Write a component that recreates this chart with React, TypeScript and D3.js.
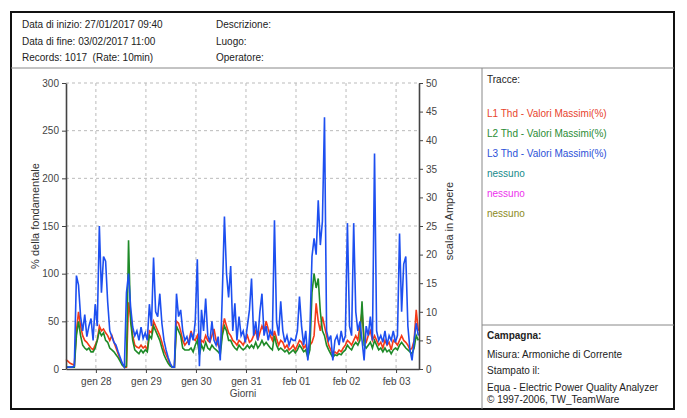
import React, { useEffect, useRef } from "react";
import * as d3 from "d3";

// Hourly samples starting 27/01/2017 09:40
const startTime = new Date(2017, 0, 27, 9, 40);
const endTime = new Date(2017, 1, 3, 11, 0);

const l1Values = [
  10, 8, 6, 5, 4, 40, 60, 45, 35, 30, 28, 25, 22, 20, 25, 30, 45, 40, 42, 38,
  35, 30, 35, 28, 22, 16, 10, 5, 2, 2, 70, 55, 35, 25, 23, 22, 25, 22, 24, 20,
  40, 38, 50, 45, 40, 35, 28, 20, 15, 10, 4, 2, 2, 50, 48, 40, 30, 25, 28, 30,
  40, 32, 30, 35, 20, 30, 28, 35, 30, 28, 35, 42, 30, 25, 20, 40, 53, 45, 38, 35,
  30, 28, 25, 30, 28, 25, 30, 35, 28, 30, 35, 40, 30, 38, 45, 40, 50, 42, 35, 30,
  40, 32, 25, 30, 28, 22, 25, 20, 22, 25, 20, 25, 30, 28, 22, 25, 15, 25, 28, 35,
  69, 50, 40, 55, 45, 35, 25, 20, 15, 18, 16, 20, 18, 22, 25, 30, 28, 25, 30, 35,
  30, 45, 60, 30, 28, 35, 40, 30, 35, 30, 25, 28, 22, 30, 25, 28, 20, 30, 28, 25,
  30, 35, 30, 28, 25, 20, 22, 30, 62, 40,
];

const l2Values = [
  2, 2, 2, 2, 2, 35, 50, 35, 25, 22, 20, 22, 18, 18, 22, 30, 40, 35, 38, 30,
  28, 22, 20, 18, 15, 12, 8, 4, 2, 3, 135, 50, 30, 20, 18, 16, 20, 17, 20, 18,
  35, 32, 45, 40, 35, 30, 22, 15, 10, 6, 3, 2, 2, 45, 40, 35, 22, 20, 20, 20,
  22, 18, 25, 30, 15, 25, 20, 28, 22, 20, 25, 22, 20, 18, 15, 35, 45, 40, 30, 30,
  25, 22, 20, 25, 22, 20, 22, 25, 22, 25, 22, 28, 22, 25, 30, 25, 28, 25, 22, 20,
  35, 25, 20, 22, 20, 18, 20, 16, 18, 20, 17, 20, 25, 22, 18, 20, 12, 20, 80, 100,
  85, 95, 60, 40, 35, 25, 20, 16, 12, 15, 14, 16, 15, 18, 20, 25, 22, 20, 25, 28,
  25, 30, 71, 25, 22, 25, 28, 22, 30, 25, 20, 22, 18, 22, 18, 20, 16, 20, 22, 20,
  25, 28, 25, 22, 20, 18, 16, 22, 35, 30,
];

const l3Values = [
  2, 2, 2, 2, 3, 98, 88, 55, 40, 57, 34, 45, 53, 30, 68, 45, 150, 80, 118, 113,
  70, 40, 34, 28, 25, 18, 12, 6, 2, 80, 100, 65, 44, 35, 40, 30, 44, 32, 38, 30,
  68, 45, 117, 60, 55, 79, 48, 30, 20, 12, 6, 2, 2, 79, 55, 62, 40, 30, 34, 25,
  38, 30, 50, 115, 3, 62, 40, 74, 35, 28, 50, 30, 25, 34, 9, 80, 160, 100, 75, 108,
  40, 69, 30, 55, 35, 40, 28, 45, 62, 95, 35, 50, 30, 60, 79, 35, 45, 30, 40, 35,
  156, 50, 35, 71, 40, 28, 35, 25, 32, 30, 30, 40, 76, 45, 25, 40, 9, 40, 118, 137,
  120, 177, 130, 155, 264, 40, 30, 35, 9, 30, 35, 25, 40, 28, 35, 153, 45, 35, 153, 60,
  40, 50, 30, 9, 45, 35, 55, 30, 226, 40, 30, 35, 28, 40, 25, 35, 30, 40, 28, 35,
  142, 60, 110, 118, 45, 20, 9, 30, 48, 35,
];

const leftTicks = [0, 50, 100, 150, 200, 250, 300];
const rightTicks = [0, 5, 10, 15, 20, 25, 30, 35, 40, 45, 50];
const monthNames = ["gen", "feb", "mar", "apr", "mag", "giu", "lug", "ago", "set", "ott", "nov", "dic"];

const headerLeft = ["Data di inizio: 27/01/2017 09:40", "Data di fine: 03/02/2017 11:00", "Records: 1017  (Rate: 10min)"];
const headerRight = ["Descrizione:", "Luogo:", "Operatore:"];
const legendItems = [
  { label: "L1 Thd - Valori Massimi(%)", color: "#e8432c" },
  { label: "L2 Thd - Valori Massimi(%)", color: "#2a8c34" },
  { label: "L3 Thd - Valori Massimi(%)", color: "#2b50d8" },
  { label: "nessuno", color: "#168a8a" },
  { label: "nessuno", color: "#ee30ee" },
  { label: "nessuno", color: "#8c8a22" },
];
const infoLines = ["Misura: Armoniche di Corrente", "Stampato il:", "Equa - Electric Power Quality Analyzer", "\u00a9 1997-2006, TW_TeamWare"];

const seriesList = [
  { values: l1Values, color: "#f53a18" },
  { values: l2Values, color: "#1e8a28" },
  { values: l3Values, color: "#1d4ff0" },
];

export default function App() {
  const ref = useRef<SVGSVGElement>(null);

  useEffect(() => {
    const svg = d3.select(ref.current);
    svg.selectAll("*").remove();
    const font = "'Liberation Sans', Arial, sans-serif";

    const plotL = 66, plotR = 419, plotT = 83, plotB = 369;
    const x = d3.scaleTime().domain([startTime, endTime]).range([plotL, plotR]);
    const yL = d3.scaleLinear().domain([0, 300]).range([plotB, plotT]);
    const yR = d3.scaleLinear().domain([0, 50]).range([plotB, plotT]);

    // Frame
    svg.append("rect").attr("x", 11).attr("y", 12).attr("width", 663).attr("height", 397)
      .attr("fill", "#fff").attr("stroke", "#111").attr("stroke-width", 2);
    svg.append("line").attr("x1", 11).attr("x2", 674).attr("y1", 68).attr("y2", 68).attr("stroke", "#888").attr("stroke-width", 1);
    svg.append("line").attr("x1", 482).attr("x2", 482).attr("y1", 68).attr("y2", 409).attr("stroke", "#888").attr("stroke-width", 1);
    svg.append("line").attr("x1", 482).attr("x2", 674).attr("y1", 325).attr("y2", 325).attr("stroke", "#888").attr("stroke-width", 1);

    // Header
    headerLeft.forEach((t, i) => {
      svg.append("text").attr("x", 22).attr("y", 28 + i * 16.5).attr("font-family", font).attr("font-size", 10).attr("fill", "#222").style("white-space", "pre").text(t);
    });
    headerRight.forEach((t, i) => {
      svg.append("text").attr("x", 216).attr("y", 28 + i * 16.5).attr("font-family", font).attr("font-size", 10).attr("fill", "#222").text(t);
    });

    // Legend
    svg.append("text").attr("x", 487).attr("y", 83).attr("font-family", font).attr("font-size", 10).attr("fill", "#222").text("Tracce:");
    legendItems.forEach((d, i) => {
      svg.append("text").attr("x", 487).attr("y", 117 + i * 20).attr("font-family", font).attr("font-size", 10).attr("fill", d.color).text(d.label);
    });

    // Info box
    svg.append("text").attr("x", 487).attr("y", 339).attr("font-family", font).attr("font-size", 10).attr("font-weight", "bold").attr("fill", "#222").text("Campagna:");
    const infoY = [358, 374, 391, 403];
    infoLines.forEach((t, i) => {
      svg.append("text").attr("x", 487).attr("y", infoY[i]).attr("font-family", font).attr("font-size", 10).attr("fill", "#222").text(t);
    });

    // Grid
    const dayTicks = d3.timeDay.range(d3.timeDay.ceil(startTime), endTime);
    const grid = svg.append("g").attr("stroke", "#bbb").attr("stroke-dasharray", "3,3").attr("stroke-width", 1);
    leftTicks.filter((v) => v > 0).forEach((v) => {
      grid.append("line").attr("x1", plotL).attr("x2", plotR).attr("y1", yL(v)).attr("y2", yL(v));
    });
    dayTicks.forEach((d) => {
      grid.append("line").attr("x1", x(d)).attr("x2", x(d)).attr("y1", plotT).attr("y2", plotB);
    });

    // Series
    const line = d3.line<number>()
      .x((_, i) => x(d3.timeHour.offset(startTime, i)))
      .y((v) => yL(v));
    seriesList.forEach((s) => {
      svg.append("path").datum(s.values).attr("d", line).attr("fill", "none")
        .attr("stroke", s.color).attr("stroke-width", 1.6).attr("stroke-linejoin", "miter");
    });

    // Axes
    const fmt = (d: Date) => `${monthNames[d.getMonth()]} ${String(d.getDate()).padStart(2, "0")}`;
    const styleAxis = (g: any) => {
      g.selectAll("text").attr("font-family", font).attr("font-size", 10).attr("fill", "#444");
      g.selectAll("line").attr("stroke", "#444");
      g.select(".domain").attr("stroke", "#444").attr("stroke-width", 1.6);
    };
    const gL = svg.append("g").attr("transform", `translate(${plotL},0)`)
      .call(d3.axisLeft(yL).tickValues(leftTicks).tickSize(4).tickSizeOuter(0).tickPadding(3));
    styleAxis(gL);
    const gR = svg.append("g").attr("transform", `translate(${plotR},0)`)
      .call(d3.axisRight(yR).tickValues(rightTicks).tickSize(4).tickSizeOuter(0).tickPadding(3));
    styleAxis(gR);
    const gB = svg.append("g").attr("transform", `translate(0,${plotB})`)
      .call(d3.axisBottom(x).tickValues(dayTicks).tickFormat(fmt as any).tickSize(4).tickSizeOuter(0).tickPadding(5));
    styleAxis(gB);

    // Titles
    svg.append("text").attr("transform", `translate(39,216) rotate(-90)`).attr("text-anchor", "middle")
      .attr("font-family", font).attr("font-size", 11).attr("fill", "#333").text("% della fondamentale");
    svg.append("text").attr("transform", `translate(453,221) rotate(-90)`).attr("text-anchor", "middle")
      .attr("font-family", font).attr("font-size", 11).attr("fill", "#333").text("scala in Ampere");
    svg.append("text").attr("x", 243).attr("y", 397).attr("text-anchor", "middle")
      .attr("font-family", font).attr("font-size", 10).attr("fill", "#444").text("Giorni");
  }, []);

  return (
    <svg ref={ref} width={687} height={418} style={{ position: "absolute", left: 0, top: 0, background: "#fff" }} />
  );
}
